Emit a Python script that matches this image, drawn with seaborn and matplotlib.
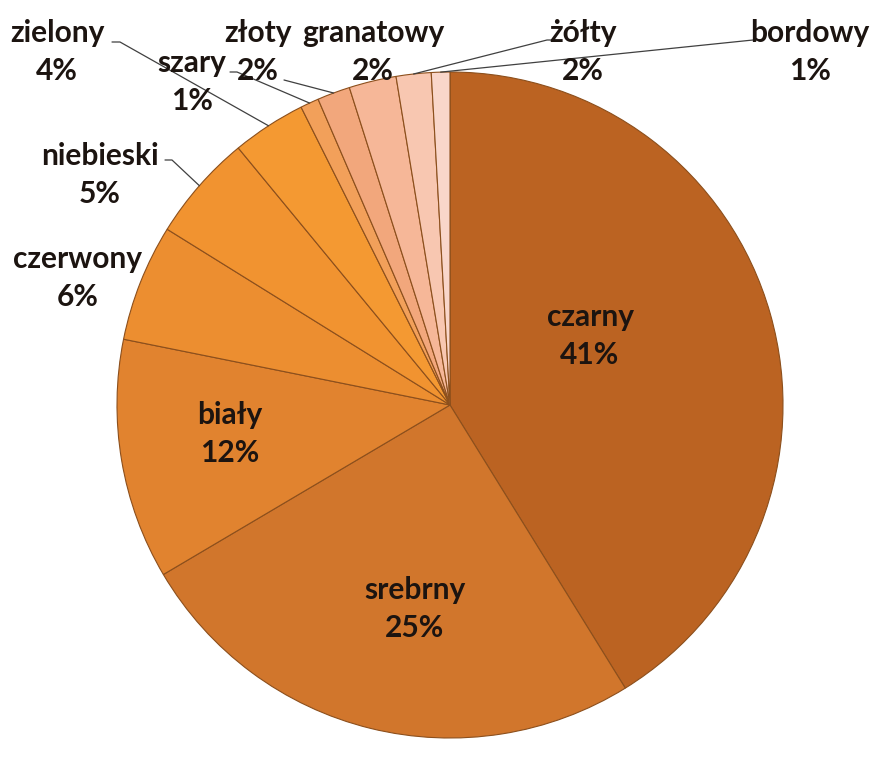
import matplotlib
matplotlib.use("Agg")
import matplotlib.pyplot as plt
import seaborn as sns
import numpy as np

# data (shares in %, clockwise from 12 o'clock)
labels = ["czarny", "srebrny", "biały", "czerwony", "niebieski", "zielony",
          "szary", "złoty", "granatowy", "żółty", "bordowy"]
shares = [41.3, 25.4, 11.7, 5.7, 5.2, 3.6, 0.9, 1.6, 2.3, 1.7, 0.9]
slice_colors = ["#bb6322", "#d1762c", "#e1832f", "#ec8e30", "#f19330", "#f49932",
                "#f2a05a", "#f2a77c", "#f6b798", "#f8c7b1", "#f9d6ca"]

# label layout (pixel coords, top-left origin), and which labels get a leader line
label_pos = {
    "czarny": (590, 336), "srebrny": (415, 609), "biały": (230, 434),
    "czerwony": (78, 278), "niebieski": (100, 175), "zielony": (57, 52),
    "szary": (192, 82), "złoty": (258, 52), "granatowy": (373, 52),
    "żółty": (583, 52), "bordowy": (810, 52),
}
leader_start = {
    "zielony": [(112, 42), (120, 42)],
    "szary": [(230, 72), (237, 72)],
    "złoty": [(284, 80)],
    "niebieski": [(165, 160), (172, 160)],
    "żółty": [(553, 40), (547, 40)],
    "bordowy": [(760, 40), (753, 40)],
}

W, H = 883, 770
sns.set_theme(style="white")
plt.rcParams['font.family'] = ['Lato', 'DejaVu Sans']

fig = plt.figure(figsize=(W / 100, H / 100), dpi=100)
ax = fig.add_axes([0, 0, 1, 1])

palette = sns.color_palette(slice_colors)
cx, cy, r = 450, H - 405, 333
wedges, _ = ax.pie(shares, colors=palette, startangle=90, counterclock=False,
                   center=(cx, cy), radius=r,
                   wedgeprops=dict(edgecolor="#8c4f1c", linewidth=0.8))
ax.set_xlim(0, W)
ax.set_ylim(0, H)
ax.set_aspect("equal")
ax.axis("off")

total = sum(shares)
for name, val, w in zip(labels, shares, wedges):
    x, y = label_pos[name]
    ax.text(x, H - y, f"{name}\n{round(val / total * 100)}%", ha="center", va="center",
            fontsize=21.5, fontweight="bold", color="#1c1410", linespacing=1.45)
    if name in leader_start:
        mid = np.deg2rad((w.theta1 + w.theta2) / 2)
        ex, ey = cx + r * np.cos(mid), cy + r * np.sin(mid)
        pts = leader_start[name]
        xs = [p[0] for p in pts] + [ex]
        ys = [H - p[1] for p in pts] + [ey]
        ax.plot(xs, ys, color="#404040", linewidth=0.9)

fig.savefig("out.png", dpi=100, facecolor="white")
